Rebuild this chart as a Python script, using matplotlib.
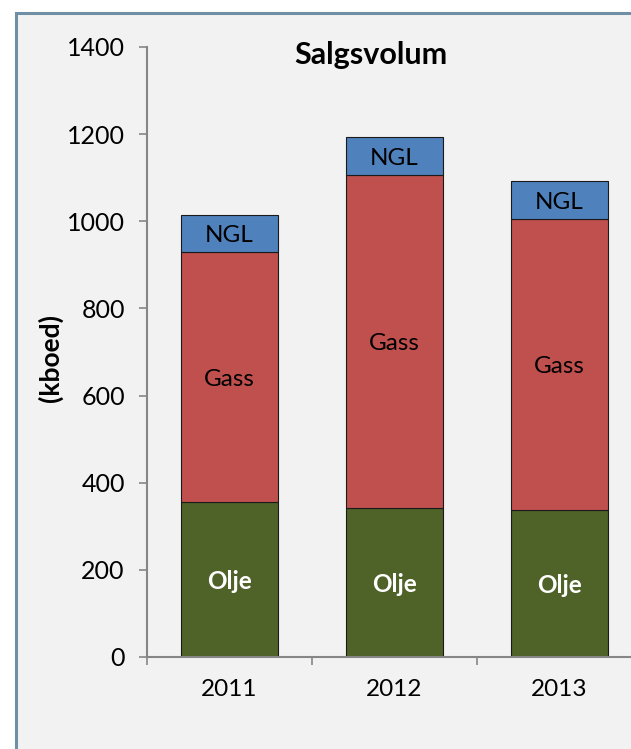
import matplotlib
matplotlib.use("agg")
import matplotlib.pyplot as plt
from matplotlib.patches import Rectangle
import numpy as np

plt.rcParams["font.family"] = ["Lato", "DejaVu Sans"]

years = ["2011", "2012", "2013"]
olje = [355, 342, 337]
gass = [575, 764, 668]
ngl = [85, 88, 88]

series = [("Olje", olje, "#4F6228", "white", "bold"),
          ("Gass", gass, "#C0504D", "black", "normal"),
          ("NGL", ngl, "#4F81BD", "black", "normal")]

W, H = 631, 749
fig = plt.figure(figsize=(W / 100, H / 100), dpi=100)
fig.patch.set_facecolor("white")

# chart frame (right/bottom edges run off the image)
fig.patches.append(Rectangle((16 / W, -0.05), 1.2, 1.05 - 13 / H,
                             transform=fig.transFigure, facecolor="#F2F2F2",
                             edgecolor="#6F90A4", lw=2.2, zorder=-5))

ax = fig.add_axes([147 / W, (H - 657) / H, 495 / W, 610 / H])
ax.set_facecolor("none")
ax.set_zorder(2)

x = np.arange(len(years))
bottom = np.zeros(len(years))
for name, vals, color, tcolor, weight in series:
    vals = np.array(vals, dtype=float)
    ax.bar(x, vals, width=0.59, bottom=bottom, color=color,
           edgecolor="#1a1a1a", linewidth=0.8, zorder=2)
    for xi, b, v in zip(x, bottom, vals):
        ax.text(xi, b + v / 2 - 5, name, ha="center", va="center",
                fontsize=17.5, color=tcolor, fontweight=weight, zorder=3)
    bottom += vals

ax.set_xlim(-0.5, 2.5)
ax.set_ylim(0, 1400)
ax.set_yticks(np.arange(0, 1401, 200))
ax.set_xticks(x)
ax.set_xticklabels(years)
ax.set_xticks(np.arange(-0.5, 2.6, 1), minor=True)
ax.tick_params(axis="x", which="major", length=0, pad=16, labelsize=17.5)
ax.tick_params(axis="x", which="minor", length=6, color="#868686", width=1.2)
ax.tick_params(axis="y", length=6, color="#868686", width=1.2, pad=10,
               labelsize=18)
for s in ["top", "right"]:
    ax.spines[s].set_visible(False)
for s in ["left", "bottom"]:
    ax.spines[s].set_color("#868686")
    ax.spines[s].set_linewidth(1.5)

fig.text(50 / W, 1 - 358 / H, "(kboed)", rotation=90, ha="center",
         va="center", fontsize=19, fontweight="bold")
fig.text(371 / W, 1 - 55 / H, "Salgsvolum", ha="center", va="center",
         fontsize=22, fontweight="bold")

fig.savefig("out.png", dpi=100)
